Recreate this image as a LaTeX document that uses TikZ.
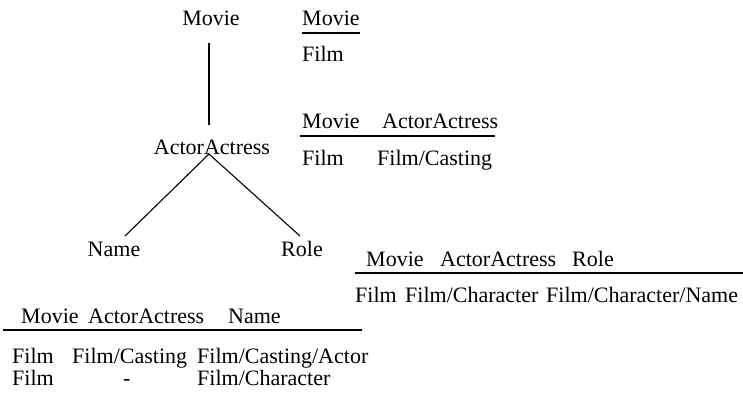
\documentclass[tikz,border=0pt]{standalone}
\usepackage{fontspec}
\setmainfont{Liberation Serif}
\tikzset{
  lbl/.style={inner sep=0pt, anchor=base, font=\fontsize{22}{24}\selectfont},
  cell/.style={inner sep=0pt, anchor=base west, font=\fontsize{22}{24}\selectfont},
  edge/.style={line width=1.1pt},
  rule/.style={line width=1.3pt}
}
\begin{document}
\begin{tikzpicture}[x=1pt,y=-1pt]
\useasboundingbox (0,0) rectangle (743,392);
\clip (0,0) rectangle (743,392);
% tree
\node[lbl] (movie) at (211,25) {Movie};
\node[lbl] (actor) at (212,154) {ActorActress};
\node[lbl] (name) at (114,256) {Name};
\node[lbl] (role) at (302,256) {Role};
\coordinate (mtop) at (209,43);
\coordinate (mbot) at (209,125);
\coordinate (apex) at (209,154);
\coordinate (lend) at (125,236);
\coordinate (rend) at (300,236);
\draw[edge] (mtop) -- (mbot);
\draw[edge] (lend) -- (apex) -- (rend);
% table: Movie
\node[cell] (t1h) at (302,25) {Movie};
\node[cell] (t1r) at (302,61) {Film};
\draw[rule] (t1h.west |- 0,33) -- (t1h.east |- 0,33);
% table: Movie, ActorActress
\node[cell] (t2h1) at (302,128) {Movie};
\node[cell] (t2h2) at (382,128) {ActorActress};
\node[cell] (t2r1) at (302,165) {Film};
\node[cell] (t2r2) at (377,165) {Film/Casting};
\draw[rule] (300,136) -- (495,136);
% table: Movie, ActorActress, Role
\node[cell] (t3h1) at (366,266) {Movie};
\node[cell] (t3h2) at (440,266) {ActorActress};
\node[cell] (t3h3) at (572,266) {Role};
\node[cell] (t3r1) at (355,302) {Film};
\node[cell] (t3r2) at (405,302) {Film/Character};
\node[cell] (t3r3) at (546,302) {Film/Character/Name};
\draw[rule] (355,273) -- (743,273);
% table: Movie, ActorActress, Name
\node[cell] (t4h1) at (21,323) {Movie};
\node[cell] (t4h2) at (88,323) {ActorActress};
\node[cell] (t4h3) at (228,323) {Name};
\node[cell] (t4a1) at (12,363) {Film};
\node[cell] (t4a2) at (72,363) {Film/Casting};
\node[cell] (t4a3) at (197,363) {Film/Casting/Actor};
\node[cell] (t4b1) at (12,385) {Film};
\node[cell] (t4b2) at (123,385) {-};
\node[cell] (t4b3) at (197,385) {Film/Character};
\draw[rule] (3,330) -- (362,330);
\end{tikzpicture}
\end{document}
